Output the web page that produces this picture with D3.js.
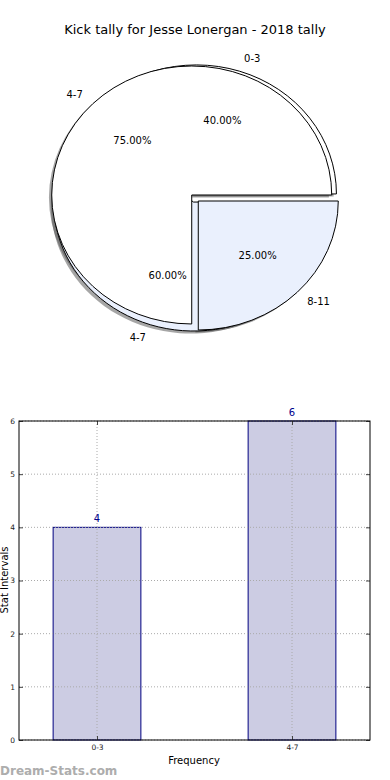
<!DOCTYPE html>
<html><head><meta charset="utf-8">
<script src="https://cdn.jsdelivr.net/npm/d3@7"></script>
<style>body{margin:0;background:#fff}svg{display:block;font-family:"DejaVu Sans",sans-serif}</style>
</head><body><svg id="c" width="390" height="780"></svg>
<script>
// ---- data ----
const title = "Kick tally for Jesse Lonergan - 2018 tally";
const pie1Labels = ["0-3", "4-7"];
const pie1Values = [40, 60];
const pie2Labels = ["4-7", "8-11"];
const pie2Values = [75, 25];
const barCategories = ["0-3", "4-7"];
const barValues = [4, 6];
const yTicks = [0, 1, 2, 3, 4, 5, 6];

const svg = d3.select("#c");
svg.append("rect").attr("width",390).attr("height",780).attr("fill","#fff");

svg.append("text").attr("x",195).attr("y",34).attr("text-anchor","middle")
  .attr("font-size",13).text(title);

// ---- pie ----
const cx = 195, cy = 198, rx = 140, ry = 129, explode = 0.033;
const colors = ["#ffffff", "#eaf0fd"];
const arcGen = d3.arc().innerRadius(0).outerRadius(1);
function wedges(labels, values){
  const p = d3.pie().sort(null).startAngle(0).endAngle(2*Math.PI)(values);
  const total = d3.sum(values);
  return p.map((d,i)=>{
    const t1 = d.startAngle, t2 = d.endAngle, tm = (t1+t2)/2;
    return {label:labels[i], value:values[i], pct:100*values[i]/total,
      path: arcGen({startAngle: Math.PI/2 - t1, endAngle: Math.PI/2 - t2}),
      tm, dx: explode*rx*Math.cos(tm), dy: -explode*ry*Math.sin(tm), color: colors[i]};
  });
}
const W = [...wedges(pie1Labels,pie1Values), ...wedges(pie2Labels,pie2Values)];
const gp = svg.append("g");
// shadows
W.forEach(w=>{
  gp.append("path").attr("d",w.path)
    .attr("transform",`translate(${cx+w.dx-0.02*rx},${cy+w.dy+0.02*ry}) scale(${rx},${ry})`)
    .attr("fill","rgb(77,77,77)").attr("fill-opacity",0.5).attr("stroke","none");
});
W.forEach(w=>{
  gp.append("path").attr("d",w.path)
    .attr("transform",`translate(${cx+w.dx},${cy+w.dy}) scale(${rx},${ry})`)
    .attr("fill",w.color).attr("stroke","#000").attr("stroke-width",1)
    .attr("vector-effect","non-scaling-stroke").attr("stroke-linejoin","miter");
});
W.forEach(w=>{
  const x0 = cx+w.dx, y0 = cy+w.dy, c = Math.cos(w.tm), s = Math.sin(w.tm);
  gp.append("text").attr("x",x0+1.1*rx*c).attr("y",y0-1.1*ry*s)
    .attr("text-anchor", c<0 ? "end" : "start").attr("dominant-baseline","central")
    .attr("font-size",10).text(w.label);
  gp.append("text").attr("x",x0+0.6*rx*c).attr("y",y0-0.6*ry*s)
    .attr("text-anchor","middle").attr("dominant-baseline","central")
    .attr("font-size",10).text(w.pct.toFixed(2)+"%");
});

// ---- bar chart ----
const L=19, R=370, T=421, B=740;
const x = d3.scaleLinear().domain([-0.4, 1.4]).range([L, R]);
const y = d3.scaleLinear().domain([0, 6]).range([B, T]);
const bw = x(0.45) - x(0);
const gb = svg.append("g");
gb.selectAll("rect.bar").data(barValues).join("rect").attr("class","bar")
  .attr("x",(d,i)=>x(i)-bw/2).attr("y",d=>y(d)).attr("width",bw).attr("height",d=>B-y(d))
  .attr("fill","#ccccE3").attr("stroke","#000080").attr("stroke-width",1);
// grid
gb.selectAll("line.gy").data(yTicks).join("line").attr("x1",L).attr("x2",R)
  .attr("y1",d=>y(d)).attr("y2",d=>y(d)).attr("stroke","#aaa").attr("stroke-dasharray","1,2");
gb.selectAll("line.gx").data(barCategories).join("line").attr("y1",T).attr("y2",B)
  .attr("x1",(d,i)=>x(i)).attr("x2",(d,i)=>x(i)).attr("stroke","#aaa").attr("stroke-dasharray","1,2");
// axes
const ay = d3.axisLeft(y).tickValues(yTicks).tickSize(-4).tickPadding(4).tickFormat(d3.format("d"));
const gy = gb.append("g").attr("transform",`translate(${L},0)`).call(ay);
gy.select(".domain").remove();
gy.selectAll("text").attr("font-size",7.5).attr("font-family","DejaVu Sans").attr("fill","#222");
gy.selectAll("line").attr("stroke","#444");
const ayr = d3.axisRight(y).tickValues(yTicks).tickSize(-4).tickFormat("");
const gyr = gb.append("g").attr("transform",`translate(${R},0)`).call(ayr);
gyr.select(".domain").remove(); gyr.selectAll("line").attr("stroke","#444");
const ax = d3.axisBottom(x).tickValues([0,1]).tickSize(-4).tickPadding(5).tickFormat((d,i)=>barCategories[i]);
const gx = gb.append("g").attr("transform",`translate(0,${B})`).call(ax);
gx.select(".domain").remove();
gx.selectAll("text").attr("font-size",7.5).attr("font-family","DejaVu Sans").attr("fill","#222");
gx.selectAll("line").attr("stroke","#444");
const axt = d3.axisTop(x).tickValues([0,1]).tickSize(-4).tickFormat("");
const gxt = gb.append("g").attr("transform",`translate(0,${T})`).call(axt);
gxt.select(".domain").remove(); gxt.selectAll("line").attr("stroke","#444");
gb.append("rect").attr("x",L).attr("y",T).attr("width",R-L).attr("height",B-T)
  .attr("fill","none").attr("stroke","#000").attr("stroke-width",1);
// value labels
gb.selectAll("text.val").data(barValues).join("text").attr("class","val")
  .attr("x",(d,i)=>x(i)).attr("y",d=>y(d)-5).attr("text-anchor","middle")
  .attr("font-size",10).attr("fill","#00008b").text(d=>d);
// axis titles
svg.append("text").attr("x",194).attr("y",764).attr("text-anchor","middle").attr("font-size",10).text("Frequency");
svg.append("text").attr("transform","translate(8,580) rotate(-90)").attr("text-anchor","middle")
  .attr("font-size",10).text("Stat Intervals");
svg.append("text").attr("x",0).attr("y",775).attr("font-size",12).attr("font-weight","600")
  .attr("fill","#999").attr("opacity",0.8).text("Dream-Stats.com");
</script></body></html>
